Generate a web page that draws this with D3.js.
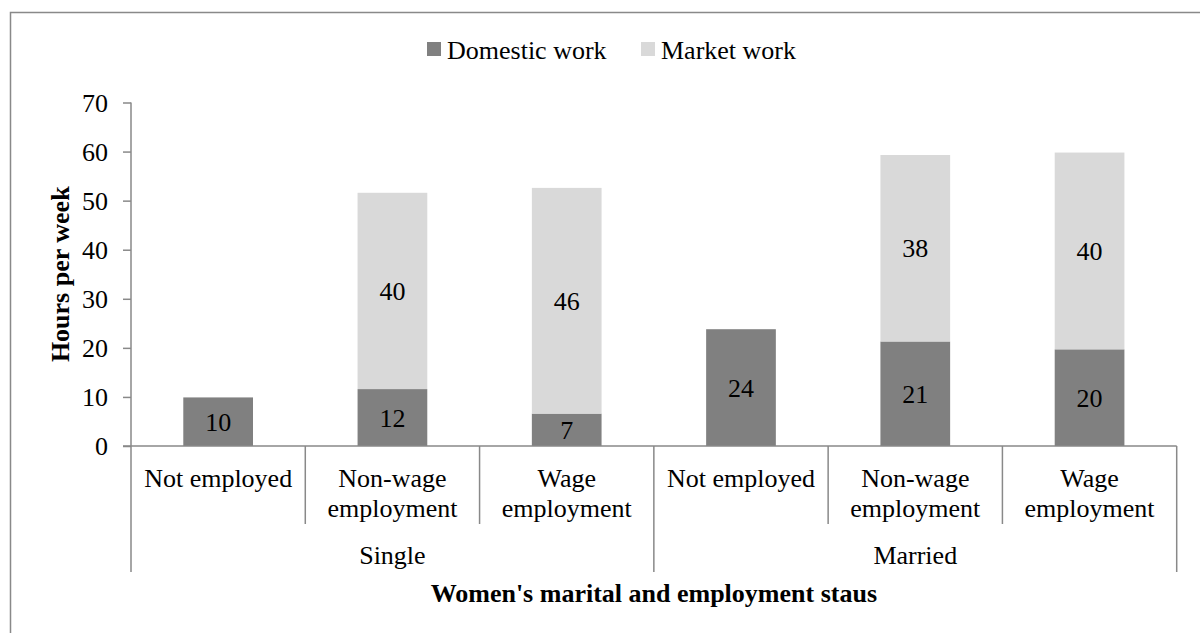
<!DOCTYPE html>
<html>
<head>
<meta charset="utf-8">
<script src="https://cdn.jsdelivr.net/npm/d3@7"></script>
<style>
  body { margin: 0; background: #fff; }
  svg text { font-family: 'Times New Roman', 'Liberation Serif', 'DejaVu Serif', serif; fill: #000; font-weight: normal; }
  svg text.bold { font-weight: bold; }
</style>
</head>
<body>
<div id="chart"></div>
<script>
// Hours per week of domestic and market work, by marital and employment status

// Chart data
let groups = ['Single', 'Married'];
let statuses = ['Not employed', 'Non-wage employment', 'Wage employment'];
let statusLines = [['Not employed'], ['Non-wage', 'employment'], ['Wage', 'employment']];
let domestic = [9.9, 11.6, 6.6, 23.8, 21.3, 19.7];
let market = [0, 40.0, 46.0, 0, 38.0, 40.1];
let seriesNames = ['Domestic work', 'Market work'];
let yTicks = [0, 10, 20, 30, 40, 50, 60, 70];

// Setup
let svgWidth = 1200;
let svgHeight = 633;
let colors = ['#808080', '#d9d9d9'];
let axisColor = '#898989';
let fontSize = 26;

let margin = { top: 102.5, left: 131, right: 23.3, bottom: 187 };
let width = svgWidth - margin.left - margin.right;
let height = svgHeight - margin.top - margin.bottom;

let svg = d3.select('#chart')
  .append('svg')
  .attr('width', svgWidth)
  .attr('height', svgHeight);

// Outer chart border (runs off the right and bottom edge)
svg.append('rect')
  .attr('x', 10.5)
  .attr('y', 12.5)
  .attr('width', 1300)
  .attr('height', 700)
  .attr('fill', 'none')
  .attr('stroke', axisColor)
  .attr('stroke-width', 1.5);

let chartGroup = svg.append('g')
  .attr('transform', `translate(${margin.left}, ${margin.top})`);

// Build rows: one per group/status pair
let rows = [];
groups.forEach((g, gi) => {
  statuses.forEach((s, si) => {
    let i = gi * statuses.length + si;
    rows.push({ key: g + '|' + s, group: g, status: s, lines: statusLines[si], domestic: domestic[i], market: market[i] });
  });
});

let stacked = d3.stack().keys(['domestic', 'market'])(rows);

// Scales
let xScale = d3.scaleBand()
  .domain(rows.map(d => d.key))
  .range([0, width])
  .padding(0);

let barWidth = xScale.bandwidth() * 0.4;

let yScale = d3.scaleLinear()
  .domain([0, 70])
  .range([height, 0]);

// Y axis
let leftAxis = d3.axisLeft(yScale)
  .tickValues(yTicks)
  .tickSize(8)
  .tickPadding(15);

let yAxis = chartGroup.append('g')
  .call(leftAxis)
  .attr('font-family', null)
  .attr('font-size', null);

yAxis.select('.domain').remove();
yAxis.append('line')
  .attr('x1', 0).attr('x2', 0)
  .attr('y1', 0).attr('y2', height)
  .attr('stroke', axisColor)
  .attr('stroke-width', 1.5);
yAxis.selectAll('.tick line')
  .attr('stroke', axisColor)
  .attr('stroke-width', 1.5);
yAxis.selectAll('.tick text')
  .attr('font-size', fontSize)
  .attr('fill', '#000')
  .attr('dy', '0.34em');

// Bars
let layers = chartGroup.selectAll('.layer')
  .data(stacked)
  .enter()
  .append('g')
  .attr('class', 'layer')
  .attr('fill', (d, i) => colors[i]);

layers.selectAll('rect')
  .data(d => d)
  .enter()
  .append('rect')
  .attr('x', d => xScale(d.data.key) + (xScale.bandwidth() - barWidth) / 2)
  .attr('y', d => yScale(d[1]))
  .attr('width', barWidth)
  .attr('height', d => yScale(d[0]) - yScale(d[1]));

// Data labels centered in each segment
layers.selectAll('.value')
  .data(d => d.filter(p => p[1] - p[0] > 0))
  .enter()
  .append('text')
  .attr('class', 'value')
  .attr('x', d => xScale(d.data.key) + xScale.bandwidth() / 2)
  .attr('y', d => yScale((d[0] + d[1]) / 2))
  .attr('dy', '0.35em')
  .attr('text-anchor', 'middle')
  .attr('font-size', fontSize)
  .text(d => d3.format('.0f')(d[1] - d[0]));

// X axis line
chartGroup.append('line')
  .attr('x1', -8).attr('x2', width)
  .attr('y1', height).attr('y2', height)
  .attr('stroke', axisColor)
  .attr('stroke-width', 1.5);

// Category dividers: short between statuses, long between groups
let catEdges = d3.range(rows.length + 1).map(i => i * xScale.step());
chartGroup.selectAll('.divider')
  .data(catEdges)
  .enter()
  .append('line')
  .attr('class', 'divider')
  .attr('x1', d => d).attr('x2', d => d)
  .attr('y1', height)
  .attr('y2', (d, i) => i % statuses.length === 0 ? height + 126 : height + 78)
  .attr('stroke', axisColor)
  .attr('stroke-width', 1.5);

// Status labels
let statusLabels = chartGroup.selectAll('.status')
  .data(rows)
  .enter()
  .append('text')
  .attr('class', 'status')
  .attr('text-anchor', 'middle')
  .attr('font-size', fontSize)
  .attr('transform', d => `translate(${xScale(d.key) + xScale.bandwidth() / 2}, ${height + 40.5})`);

statusLabels.selectAll('tspan')
  .data(d => d.lines)
  .enter()
  .append('tspan')
  .attr('x', 0)
  .attr('y', (d, i) => i * 30)
  .text(d => d);

// Group labels
chartGroup.selectAll('.group')
  .data(groups)
  .enter()
  .append('text')
  .attr('class', 'group')
  .attr('text-anchor', 'middle')
  .attr('font-size', fontSize)
  .attr('x', (d, i) => (i + 0.5) * statuses.length * xScale.step())
  .attr('y', height + 118)
  .text(d => d);

// X axis title
chartGroup.append('text')
  .attr('class', 'bold')
  .attr('text-anchor', 'middle')
  .attr('font-size', fontSize)
  .attr('x', width / 2)
  .attr('y', height + 155.5)
  .text("Women's marital and employment staus");

// Y axis title
chartGroup.append('text')
  .attr('class', 'bold')
  .attr('text-anchor', 'middle')
  .attr('font-size', fontSize)
  .attr('transform', `translate(${-62}, ${height / 2}) rotate(-90)`)
  .text('Hours per week');

// Legend
let legendX = [427, 641];
let legend = svg.selectAll('.legend')
  .data(seriesNames)
  .enter()
  .append('g')
  .attr('class', 'legend')
  .attr('transform', (d, i) => `translate(${legendX[i]}, 42)`);

legend.append('rect')
  .attr('width', 14)
  .attr('height', 14)
  .attr('fill', (d, i) => colors[i]);

legend.append('text')
  .attr('x', 20)
  .attr('y', 16.5)
  .attr('font-size', fontSize)
  .text(d => d);
</script>
</body>
</html>
